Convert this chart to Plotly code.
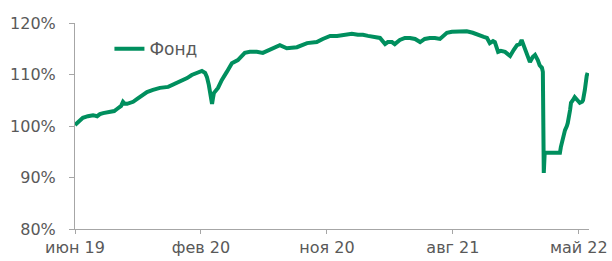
import plotly.graph_objects as go

dates = [
    "2019-06-01", "2019-06-10", "2019-06-18", "2019-06-29", "2019-07-10", "2019-07-19", "2019-07-25",
    "2019-08-01", "2019-08-16", "2019-08-25", "2019-08-31", "2019-09-09", "2019-09-13", "2019-09-17",
    "2019-09-22", "2019-10-05", "2019-10-13", "2019-10-20", "2019-11-04", "2019-11-17", "2019-12-02",
    "2019-12-20", "2020-01-04", "2020-01-19", "2020-01-30", "2020-02-09", "2020-02-20", "2020-03-02",
    "2020-03-09", "2020-03-13", "2020-03-17", "2020-03-20", "2020-03-22", "2020-03-24", "2020-03-26",
    "2020-03-28", "2020-04-06", "2020-04-14", "2020-04-25", "2020-05-06", "2020-05-19", "2020-06-03",
    "2020-06-14", "2020-06-29", "2020-07-12", "2020-07-28", "2020-08-18", "2020-09-02", "2020-09-24",
    "2020-10-16", "2020-11-06", "2020-11-19", "2020-12-05", "2020-12-20", "2021-01-06", "2021-01-21",
    "2021-02-03", "2021-02-14", "2021-02-25", "2021-03-08", "2021-03-23", "2021-04-03", "2021-04-09",
    "2021-04-18", "2021-04-24", "2021-05-05", "2021-05-16", "2021-05-27", "2021-06-07", "2021-06-18",
    "2021-06-28", "2021-07-09", "2021-07-20", "2021-07-31", "2021-08-09", "2021-08-15", "2021-08-26",
    "2021-09-06", "2021-09-17", "2021-09-27", "2021-10-10", "2021-10-26", "2021-11-03", "2021-11-10",
    "2021-11-16", "2021-11-23", "2021-11-27", "2021-12-04", "2021-12-10", "2021-12-19", "2021-12-25",
    "2021-12-30", "2022-01-07", "2022-01-14", "2022-01-20", "2022-01-24", "2022-01-29", "2022-02-04",
    "2022-02-11", "2022-02-17", "2022-02-22", "2022-02-28", "2022-03-04", "2022-03-09", "2022-03-11",
    "2022-03-13", "2022-03-15", "2022-03-31", "2022-04-17", "2022-04-19", "2022-04-21", "2022-04-26",
    "2022-04-28", "2022-05-02", "2022-05-04", "2022-05-09", "2022-05-11", "2022-05-15", "2022-05-19",
    "2022-05-26", "2022-05-30", "2022-06-04", "2022-06-06", "2022-06-10", "2022-06-12", "2022-06-14",
    "2022-06-16",
]

fund = [
    100.2, 101.0, 101.6, 101.9, 102.1, 101.9, 102.3,
    102.5, 102.7, 102.9, 103.3, 103.9, 104.7, 104.3,
    104.3, 104.7, 105.2, 105.6, 106.6, 107.0, 107.4,
    107.6, 108.2, 108.9, 109.3, 109.9, 110.3, 110.7,
    110.3, 109.5, 108.0, 106.6, 105.4, 104.3, 105.4,
    106.4, 107.4, 108.9, 110.5, 112.2, 112.8, 114.2,
    114.4, 114.4, 114.2, 114.8, 115.7, 115.1, 115.3,
    116.1, 116.3, 116.9, 117.5, 117.5, 117.7, 117.9,
    117.7, 117.7, 117.5, 117.3, 117.1, 115.9, 116.3,
    116.3, 115.9, 116.7, 117.1, 117.1, 116.9, 116.3,
    116.9, 117.1, 117.1, 116.9, 117.5, 118.1, 118.3,
    118.3, 118.4, 118.4, 118.1, 117.7, 117.3, 117.1,
    116.1, 116.5, 116.3, 114.4, 114.6, 114.4, 114.0,
    113.6, 114.8, 115.7, 115.9, 116.7, 115.5, 114.2,
    112.4, 113.4, 113.8, 112.8, 111.8, 111.3, 110.5,
    90.9, 94.8, 94.8, 94.8, 95.9, 96.7, 97.9,
    99.2, 100.0, 100.6, 103.1, 104.5, 105.0, 105.6,
    104.9, 104.5, 104.7, 105.0, 107.0, 109.3, 109.7,
    110.3,
]

tick_dates = ["2019-06-01", "2020-02-29", "2020-11-28", "2021-08-28", "2022-05-28"]
tick_labels = ["июн 19", "фев 20", "ноя 20", "авг 21", "май 22"]
y_ticks = [80, 90, 100, 110, 120]
y_labels = ["80%", "90%", "100%", "110%", "120%"]

fig = go.Figure()
fig.add_trace(go.Scatter(
    x=dates, y=fund, mode="lines", name="Фонд",
    line=dict(color="#008F5E", width=4),
))

axis_color = "#A6A6A6"
fig.update_layout(
    width=612, height=261,
    margin=dict(l=75, r=23, t=23, b=32),
    paper_bgcolor="white", plot_bgcolor="white",
    font=dict(family="DejaVu Sans", size=16, color="#595959"),
    showlegend=True,
    legend=dict(x=0.067, y=0.96, xanchor="left", yanchor="top",
                bgcolor="rgba(0,0,0,0)", font=dict(size=17, color="#595959")),
    xaxis=dict(
        type="date", range=["2019-06-01", "2022-06-19"],
        tickvals=tick_dates, ticktext=tick_labels,
        showgrid=False, zeroline=False, automargin=False,
        showline=True, linecolor=axis_color, linewidth=1,
        ticks="outside", ticklen=4, tickcolor=axis_color,
    ),
    yaxis=dict(
        range=[80, 120], tickvals=y_ticks, ticktext=y_labels,
        showgrid=False, zeroline=False, automargin=False,
        showline=True, linecolor=axis_color, linewidth=1,
        ticks="outside", ticklen=5, tickcolor=axis_color,
        ticklabelstandoff=10,
    ),
)

fig.write_html("out.html", config={"displayModeBar": False},
               post_script="document.body.style.margin='0';")
